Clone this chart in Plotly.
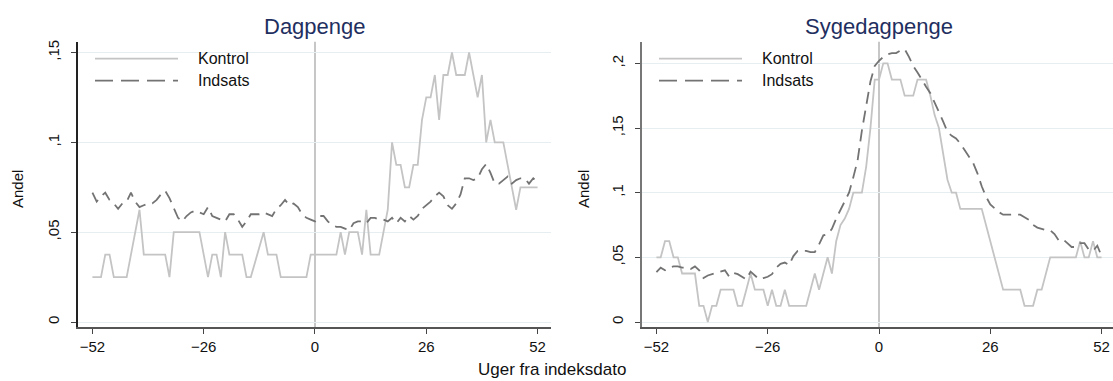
import plotly.graph_objects as go

# Weeks relative to the index date
weeks = list(range(-52, 53))

# Dagpenge: share of people on unemployment benefit
dag_kontrol = [
    .025, .025, .025, .0375, .0375, .025, .025, .025, .025, .0375, .05, .0625, .0375,
    .0375, .0375, .0375, .0375, .0375, .025, .05, .05, .05, .05, .05, .05, .05,
    .0375, .025, .0375, .0375, .025, .05, .0375, .0375, .0375, .0375, .025, .025, .0333,
    .0417, .05, .0375, .0375, .0375, .025, .025, .025, .025, .025, .025, .025, .0375,
    .0375,
    .0375, .0375, .0375, .0375, .0375, .05, .0375, .05, .05, .05, .0375, .0625,
    .0375, .0375, .0375, .05, .0625, .1, .0875, .0875, .075, .075, .0875, .0875, .1125,
    .125, .125, .1375, .1125, .1375, .1375, .15, .1375, .1375, .1375, .15, .1375, .125,
    .1375, .1, .1125, .1, .1, .1, .0875, .075, .0625, .075, .075, .075, .075, .075,
]
dag_indsats = [
    .072, .067, .070, .072, .068, .066, .063, .066, .067, .072, .067, .064, .065,
    .066, .066, .068, .071, .073, .069, .063, .058, .056, .059, .061, .062, .061,
    .060, .064, .059, .058, .057, .056, .060, .060, .057, .053, .056, .060, .060,
    .060, .061, .060, .059, .063, .065, .068, .065, .066, .064, .060, .058, .057,
    .056,
    .059, .059, .056, .054, .053, .053, .052, .051, .055, .056, .056, .055,
    .058, .058, .057, .057, .056, .058, .055, .058, .056, .059, .057, .059, .063,
    .065, .067, .070, .072, .070, .065, .063, .066, .071, .080, .080, .079, .080,
    .085, .088, .083, .077, .077, .079, .081, .077, .079, .080, .080, .077, .080, .078,
]

# Sygedagpenge: share of people on sickness benefit
syg_kontrol = [
    .05, .05, .0625, .0625, .05, .05, .0375, .0375, .0375, .0375, .0125, .0125, 0,
    .0125, .0125, .025, .025, .025, .025, .0125, .0125, .025, .0375, .025, .025, .025,
    .0125, .025, .0125, .0125, .025, .0125, .0125, .0125, .0125, .0125, .025, .0375, .025,
    .0375, .05, .0375, .0625, .075, .08, .0875, .1, .1, .1, .12, .15, .1875,
    .1875,
    .2, .2, .1875, .1875, .1875, .175, .175, .175, .1875, .1875, .1875, .175,
    .16, .15, .13, .11, .1, .1, .0875, .0875, .0875, .0875, .0875, .0875, .075,
    .0625, .05, .0375, .025, .025, .025, .025, .025, .0125, .0125, .0125, .025, .025,
    .0375, .05, .05, .05, .05, .05, .05, .05, .0625, .05, .05, .0625, .05, .05,
]
syg_indsats = [
    .0385, .042, .040, .042, .043, .043, .042, .042, .041, .043, .040, .034, .036,
    .037, .038, .039, .040, .035, .038, .037, .035, .033, .039, .036, .033, .034,
    .035, .037, .042, .045, .046, .044, .051, .055, .055, .055, .054, .054, .060,
    .067, .068, .072, .080, .087, .093, .100, .112, .125, .148, .168, .186, .198,
    .202,
    .205, .207, .208, .208, .210, .211, .205, .198, .193, .187, .182, .177,
    .170, .163, .155, .147, .144, .142, .138, .133, .128, .123, .115, .105, .097,
    .091, .088, .085, .083, .083, .083, .083, .083, .081, .079, .075, .073, .072,
    .071, .071, .068, .063, .064, .061, .058, .058, .061, .061, .056, .055, .059, .051,
]

x_ticks = [-52, -26, 0, 26, 52]
dag_yticks = [0, 0.05, 0.1, 0.15]
dag_ytext = ["0", ",05", ",1", ",15"]
syg_yticks = [0, 0.05, 0.1, 0.15, 0.2]
syg_ytext = ["0", ",05", ",1", ",15", ",2"]

series_names = ["Kontrol", "Indsats"]
panel_titles = ["Dagpenge", "Sygedagpenge"]
x_title = "Uger fra indeksdato"
y_title = "Andel"

W, H = 1113, 381
FONT = "Arial, Liberation Sans, sans-serif"
KONTROL_STYLE = dict(color="#c4c4c4", width=1.8)
INDSATS_STYLE = dict(color="#737373", width=1.8, dash="12px,7px")
TITLE_COLOR = "#1f2f5f"


def px_x(p):
    return p / W


def px_y(p):
    return 1 - p / H


fig = go.Figure()
panels = [
    ("x", "y", dag_kontrol, dag_indsats),
    ("x2", "y2", syg_kontrol, syg_indsats),
]
for xa, ya, kon, ind in panels:
    fig.add_trace(go.Scatter(x=weeks, y=kon, mode="lines", line=KONTROL_STYLE,
                             xaxis=xa, yaxis=ya, name=series_names[0], showlegend=False))
    fig.add_trace(go.Scatter(x=weeks, y=ind, mode="lines", line=INDSATS_STYLE,
                             xaxis=xa, yaxis=ya, name=series_names[1], showlegend=False))

# plot areas in pixels: left 78..551, right 642..1113, vertical 40..327
y_dom = [px_y(327), px_y(40)]
common_x = dict(
    tickmode="array", tickvals=x_ticks, ticks="outside", ticklen=5, tickwidth=1.2,
    tickcolor="#444", showgrid=False, zeroline=False, showline=True,
    linecolor="#555", linewidth=2, tickfont=dict(family=FONT, size=15, color="#111"),
)
common_y = dict(
    ticks="outside", ticklen=5, tickwidth=1.2, tickcolor="#444", tickangle=-90,
    showgrid=True, gridcolor="#e6eef1", gridwidth=1, zeroline=False, showline=True,
    linewidth=1.5, tickfont=dict(family=FONT, size=15, color="#111"),
    ticklabelstandoff=6,
)

fig.update_layout(
    width=W, height=H,
    margin=dict(l=0, r=0, t=0, b=0),
    paper_bgcolor="white", plot_bgcolor="white",
    showlegend=False,
    xaxis=dict(domain=[px_x(78), px_x(551)], range=[-55.37, 55.14], anchor="y", **common_x),
    yaxis=dict(domain=y_dom, range=[-0.00293, 0.15598], anchor="x",
               tickvals=dag_yticks, ticktext=dag_ytext, linecolor="#222", **common_y),
    xaxis2=dict(domain=[px_x(642), 1.0], range=[-55.37, 54.67], anchor="y2", **common_x),
    yaxis2=dict(domain=y_dom, range=[-0.00408, 0.2167], anchor="x2",
                tickvals=syg_yticks, ticktext=syg_ytext, linecolor="#777", **common_y),
)

shapes = []
annotations = []

# vertical reference line at the index date
for xa, ya in (("x", "y"), ("x2", "y2")):
    shapes.append(dict(type="line", xref=xa, yref=f"{ya} domain", x0=0, x1=0, y0=0, y1=1,
                       line=dict(color="#b4b4b4", width=1.5), layer="below"))

# legends drawn inside each panel
for line_x0, line_x1, text_x in ((95, 178, 196), (659, 742, 760)):
    for py, style, label in ((57, KONTROL_STYLE, series_names[0]),
                             (79, INDSATS_STYLE, series_names[1])):
        st = dict(style)
        if "dash" in st:
            st["dash"] = "18px,8px"
        shapes.append(dict(type="line", xref="paper", yref="paper",
                           x0=px_x(line_x0), x1=px_x(line_x1), y0=px_y(py), y1=px_y(py),
                           line=st))
        annotations.append(dict(text=label, xref="paper", yref="paper", x=px_x(text_x),
                                y=px_y(py), xanchor="left", yanchor="middle", showarrow=False,
                                font=dict(family=FONT, size=16, color="#111")))

# panel titles
for cx, t in ((315, panel_titles[0]), (879, panel_titles[1])):
    annotations.append(dict(text=t, xref="paper", yref="paper", x=px_x(cx), y=px_y(25),
                            xanchor="center", yanchor="middle", showarrow=False,
                            font=dict(family=FONT, size=22, color=TITLE_COLOR)))

# axis titles
for cx in (17, 583):
    annotations.append(dict(text=y_title, xref="paper", yref="paper", x=px_x(cx), y=px_y(188),
                            xanchor="center", yanchor="middle", textangle=-90, showarrow=False,
                            font=dict(family=FONT, size=15, color="#111")))
annotations.append(dict(text=x_title, xref="paper", yref="paper", x=px_x(552), y=0,
                        xanchor="center", yanchor="bottom", showarrow=False,
                        font=dict(family=FONT, size=17, color="#111")))

fig.update_layout(shapes=shapes, annotations=annotations)

fig.write_html("out.html")
